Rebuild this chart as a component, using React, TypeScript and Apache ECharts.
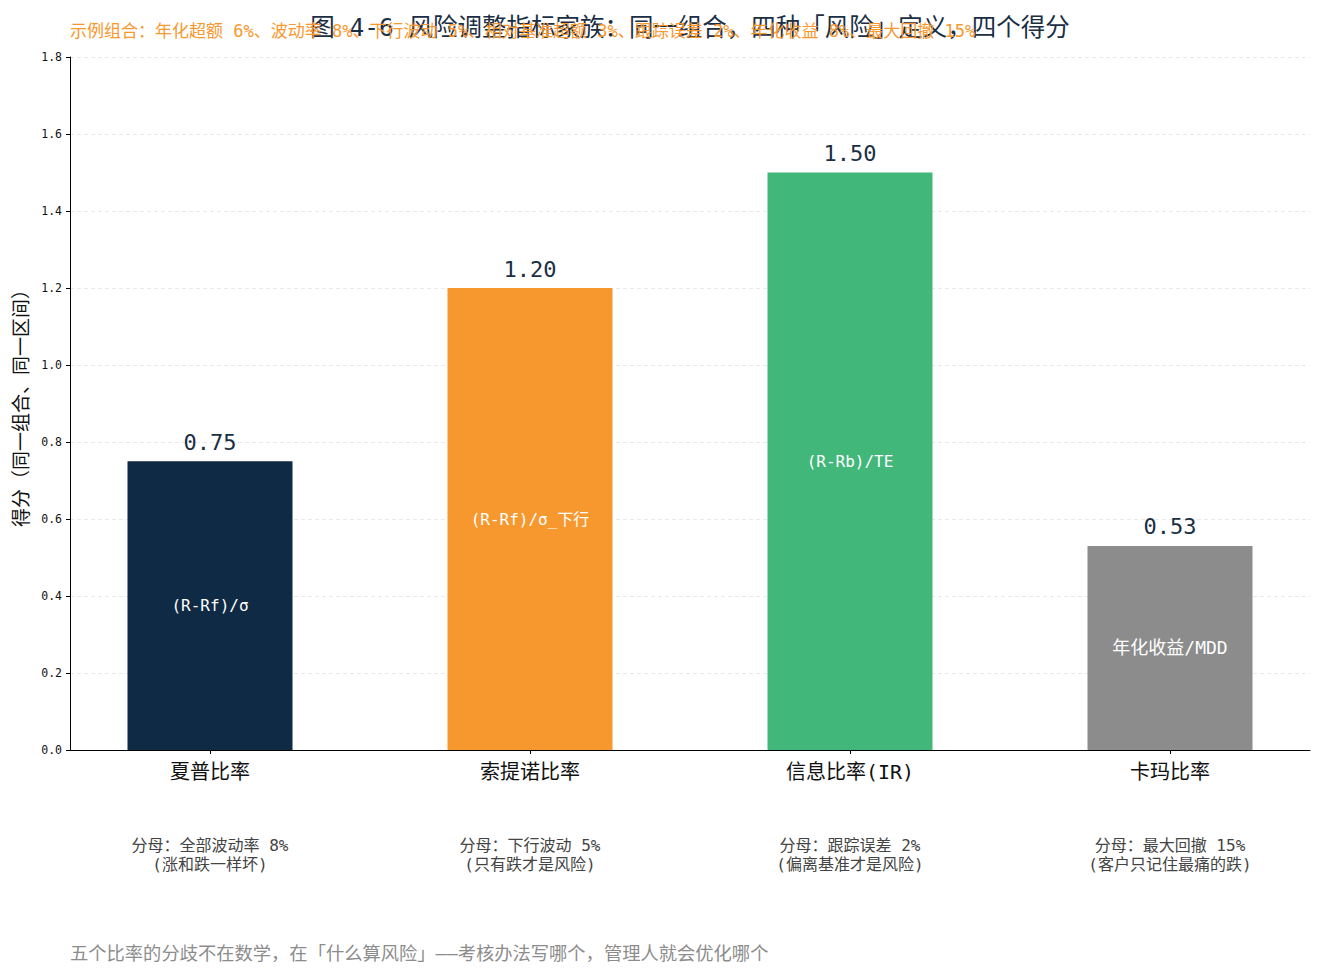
import React, { useEffect, useRef } from "react";
import * as echarts from "echarts";

const categories = ["夏普比率", "索提诺比率", "信息比率(IR)", "卡玛比率"];
const scores = [0.75, 1.2, 1.5, 0.53];
const formulas = ["(R-Rf)/σ", "(R-Rf)/σ_下行", "(R-Rb)/TE", "年化收益/MDD"];
const denominators = ["分母：全部波动率 8%", "分母：下行波动 5%", "分母：跟踪误差 2%", "分母：最大回撤 15%"];
const notes = ["(涨和跌一样坏)", "(只有跌才是风险)", "(偏离基准才是风险)", "(客户只记住最痛的跌)"];
const barColors = ["#0f2a44", "#f7982f", "#41b77a", "#8c8c8c"];

const TITLE = "图 4-6 风险调整指标家族：同一组合，四种「风险」定义，四个得分";
const SUBTITLE = "示例组合：年化超额 6%、波动率 8%、下行波动 5%、相对基准超额 3%、跟踪误差 2%、年化收益 8%、最大回撤 15%";
const FOOTER = "五个比率的分歧不在数学，在「什么算风险」——考核办法写哪个，管理人就会优化哪个";

// monospace latin + CJK fallback, close to the reference's glyph widths
const FONT = "'DejaVu Sans Mono', 'Noto Sans CJK SC', monospace";

export default function App() {
    const chartRef = useRef<HTMLDivElement>(null);

    useEffect(() => {
        document.body.style.margin = "0";
        if (chartRef.current === null) return;
        const chart = echarts.init(chartRef.current, undefined, { renderer: "svg" });

        const idx = categories.map((_, i) => i);

        const option: echarts.EChartsOption = {
            animation: false,
            backgroundColor: "#ffffff",
            textStyle: { fontFamily: FONT },
            title: [
                {
                    text: TITLE,
                    left: 690,
                    top: 15,
                    padding: 0,
                    textAlign: "center",
                    textStyle: { fontSize: 24.5, fontWeight: "normal", color: "#1a2e44", fontFamily: FONT },
                },
                {
                    text: SUBTITLE,
                    left: 70,
                    top: 22,
                    padding: 0,
                    textStyle: { fontSize: 17, fontWeight: "normal", color: "#f7982f", fontFamily: FONT },
                },
                {
                    text: FOOTER,
                    left: 70,
                    top: 944,
                    padding: 0,
                    textStyle: { fontSize: 18.3, fontWeight: "normal", color: "#8c8c8c", fontFamily: FONT },
                },
            ],
            grid: { left: 70, right: 14, top: 57, bottom: 226 },
            xAxis: {
                type: "value",
                min: -0.4375,
                max: 3.4375,
                splitLine: { show: false },
                axisLine: { show: true, onZero: false, lineStyle: { color: "#000000", width: 1 } },
                axisTick: { show: true, customValues: idx, length: 4, lineStyle: { color: "#000000" } },
                axisLabel: {
                    margin: 8,
                    customValues: idx,
                    formatter: (value: number) => {
                        const i = Math.round(value);
                        return `{a|${categories[i]}}\n{s| }\n{b|${denominators[i]}}\n{b|${notes[i]}}`;
                    },
                    rich: {
                        a: { fontSize: 20, lineHeight: 27, color: "#111111", fontFamily: FONT },
                        s: { fontSize: 10, lineHeight: 51 },
                        b: { fontSize: 16, lineHeight: 19, color: "#444444", fontFamily: FONT },
                    },
                },
            },
            yAxis: {
                type: "value",
                min: 0,
                max: 1.8,
                interval: 0.2,
                name: "得分（同一组合、同一区间）",
                nameLocation: "middle",
                nameGap: 40,
                nameTextStyle: { fontSize: 19, color: "#111111", fontFamily: FONT },
                axisLine: { show: true, onZero: false, lineStyle: { color: "#000000", width: 1 } },
                axisTick: { show: true, length: 4, lineStyle: { color: "#000000" } },
                axisLabel: {
                    color: "#111111",
                    fontSize: 11.5,
                    margin: 8,
                    formatter: (v: number) => v.toFixed(1),
                },
                splitLine: { lineStyle: { color: "#e3e3e3", type: [4, 3], width: 0.8 } },
            },
            series: [
                {
                    type: "bar",
                    barWidth: 165,
                    data: scores.map((v, i) => ({
                        value: [i, v],
                        itemStyle: { color: barColors[i] },
                        label: {
                            show: true,
                            position: "inside",
                            formatter: formulas[i],
                            color: "#ffffff",
                            fontSize: i === 3 ? 18 : 16,
                            fontFamily: FONT,
                        },
                    })),
                },
                {
                    type: "bar",
                    barWidth: 165,
                    barGap: "-100%",
                    silent: true,
                    itemStyle: { color: "transparent" },
                    data: scores.map((v, i) => [i, v]),
                    label: {
                        show: true,
                        position: "top",
                        distance: 8,
                        formatter: (p: any) => p.value[1].toFixed(2),
                        color: "#1a2e44",
                        fontSize: 22,
                        fontFamily: FONT,
                    },
                    z: 3,
                },
            ],
        };

        chart.setOption(option);
        return () => {
            chart.dispose();
        };
    }, []);

    return <div ref={chartRef} style={{ width: 1324, height: 976 }} />;
}
